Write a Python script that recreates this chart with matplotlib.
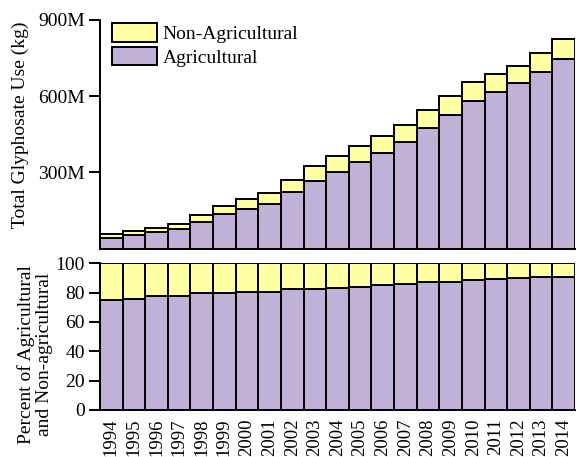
import matplotlib
matplotlib.use("Agg")
import matplotlib.pyplot as plt
import numpy as np
from matplotlib.ticker import FixedLocator, FuncFormatter

years = list(range(1994, 2015))
# glyphosate use in millions of kg
agricultural = [42, 52, 64, 76, 105, 135, 156, 177, 222, 267, 302, 340, 378,
                419, 473, 527, 579, 615, 650, 697, 747]
non_agricultural = [14, 17, 18, 22, 27, 34, 38, 43, 47, 56, 61, 65, 66,
                    68, 71, 75, 76, 74, 70, 74, 79]

purple = "#c0b1d6"
yellow = "#ffffa3"

plt.rcParams["font.family"] = ["Liberation Serif", "DejaVu Serif"]
plt.rcParams["font.size"] = 14

fig = plt.figure(figsize=(5.76, 4.57), dpi=100)
ax1 = fig.add_axes([100 / 576, 1 - 248.5 / 457, 475 / 576, 228.5 / 457])
ax2 = fig.add_axes([100 / 576, 1 - 410 / 457, 475 / 576, 146.7 / 457])

x = np.arange(len(years))
agri = np.array(agricultural, dtype=float)
nonag = np.array(non_agricultural, dtype=float)
total = agri + nonag

kw = dict(width=1.0, edgecolor="black", linewidth=1.4)
ax1.bar(x, agri, color=purple, label="Agricultural", **kw)
ax1.bar(x, nonag, bottom=agri, color=yellow, label="Non-Agricultural", **kw)

pct_agri = agri / total * 100
pct_non = 100 - pct_agri
ax2.bar(x, pct_agri, color=purple, **kw)
ax2.bar(x, pct_non, bottom=pct_agri, color=yellow, **kw)

for ax in (ax1, ax2):
    ax.set_xlim(-0.5, len(years) - 0.5)
    ax.spines["top"].set_visible(False)
    ax.spines["right"].set_visible(False)
    ax.spines["left"].set_linewidth(1.4)
    ax.spines["bottom"].set_linewidth(1.4)
    ax.tick_params(axis="y", direction="out", length=8, width=1.4, pad=3)

ax1.set_ylim(0, 900)
ax1.yaxis.set_major_locator(FixedLocator([300, 600, 900]))
ax1.yaxis.set_major_formatter(FuncFormatter(lambda v, p: f"{int(v)}M"))
ax1.set_xticks([])
ax1.set_ylabel("Total Glyphosate Use (kg)")
ax1.yaxis.set_label_coords(-0.15, 0.54)

ax2.set_ylim(0, 100)
ax2.set_yticks([0, 20, 40, 60, 80, 100])
ax2.set_xticks(x)
ax2.set_xticklabels([str(y) for y in years], rotation=90, fontsize=13.5)
ax2.tick_params(axis="x", length=0, pad=6)
ax2.set_ylabel("Percent of Agricultural\nand Non-agricultural",
               linespacing=1.05)
ax2.yaxis.set_label_coords(-0.099, 0.38)

handles, labels = ax1.get_legend_handles_labels()
ax1.legend(handles[::-1], labels[::-1], loc="upper left", frameon=False,
           handlelength=2.3, handleheight=1.1, handletextpad=0.3,
           labelspacing=0.2, borderpad=0, borderaxespad=0,
           bbox_to_anchor=(12 / 475, 0.987))

fig.savefig("out.png", dpi=100)
